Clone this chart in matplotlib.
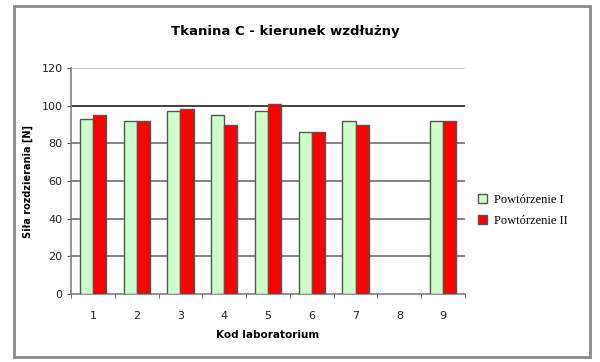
import numpy as np
import matplotlib
matplotlib.use("Agg")
import matplotlib.pyplot as plt
from matplotlib.patches import Rectangle

labs = ["1", "2", "3", "4", "5", "6", "7", "8", "9"]
rep1 = [93, 92, 97, 95, 97, 86, 92, np.nan, 92]
rep2 = [95, 92, 98, 90, 101, 86, 90, np.nan, 92]
series_names = ["Powtórzenie I", "Powtórzenie II"]
yticks = [0, 20, 40, 60, 80, 100, 120]

W, H = 600, 362
fig = plt.figure(figsize=(W / 100, H / 100), dpi=100)
fig.patch.set_facecolor("white")

# outer chart frame
fig.patches.append(Rectangle((14 / W, 1 - 357 / H), 576 / W, 351 / H,
                             transform=fig.transFigure, fill=False,
                             edgecolor="#8a8a8a", linewidth=2.0))

ax = fig.add_axes([71 / W, 1 - 294 / H, 394 / W, 226 / H])
x = np.arange(len(labs))
bw = 0.3
ax.bar(x - bw / 2, rep1, bw, color="#ccffcc", edgecolor="#555555",
       linewidth=1.0, label=series_names[0], zorder=3)
ax.bar(x + bw / 2, rep2, bw, color="#ff0000", edgecolor="#555555",
       linewidth=1.0, label=series_names[1], zorder=3)

ax.set_xlim(-0.5, len(labs) - 0.5)
ax.set_ylim(0, 120)
ax.set_yticks(yticks)
for v in yticks[1:]:
    if v == 100:
        col = "#202020"
    elif v == 120:
        col = "#c0c0c0"
    else:
        col = "#707070"
    ax.axhline(v, color=col, linewidth=1.2, zorder=1)

for s in ["top", "right"]:
    ax.spines[s].set_visible(False)
ax.spines["left"].set_color("#808080")
ax.spines["bottom"].set_color("#808080")
ax.spines["left"].set_linewidth(1.2)
ax.spines["bottom"].set_linewidth(1.2)

ax.set_xticks(x)
ax.set_xticklabels(labs)
ax.set_xticks(np.arange(len(labs) + 1) - 0.5, minor=True)
ax.tick_params(axis="x", which="major", length=0, pad=12,
               labelsize=8, labelcolor="#222222")
ax.tick_params(axis="x", which="minor", length=3, color="#555555")
ax.tick_params(axis="y", length=3, color="#555555", labelsize=8,
               labelcolor="#222222", pad=3)

ax.set_xlabel("Kod laboratorium", fontsize=7.5, fontweight="bold",
              labelpad=7)
ax.set_ylabel("Siła rozdzierania [N]", fontsize=7, fontweight="bold",
              labelpad=6)
fig.text(285 / W, 1 - 31 / H, "Tkanina C - kierunek wzdłużny",
         ha="center", va="center", fontsize=9.5, fontweight="bold")

leg = ax.legend(loc="center left", bbox_to_anchor=(1.005, 0.37),
                frameon=False, prop={"family": "Liberation Serif", "size": 9},
                handlelength=0.7, handleheight=0.7, handletextpad=0.6,
                labelspacing=0.75)

fig.savefig("out.png", dpi=100)
